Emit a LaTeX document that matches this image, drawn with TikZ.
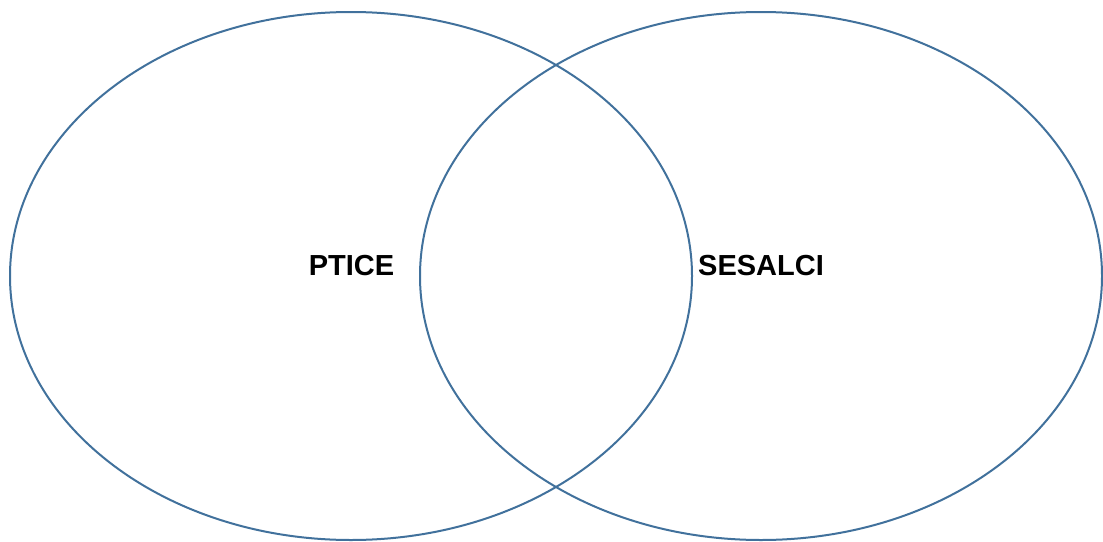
\documentclass[tikz,border=0pt]{standalone}
\usepackage{fontspec}
\setmainfont{Liberation Sans}
\definecolor{ring}{HTML}{41719C}
\begin{document}
\begin{tikzpicture}[x=1pt,y=-1pt,
  ringstyle/.style={draw=ring,line width=2pt},
  lbl/.style={font=\fontsize{29}{30}\selectfont\bfseries,inner sep=0pt}]
\useasboundingbox (0,0) rectangle (1103,541);
\draw[ringstyle] (351,276) ellipse [x radius=341, y radius=264];
\draw[ringstyle] (761,276) ellipse [x radius=341, y radius=264];
\node[lbl] (ptice) at (351.5,266) {PTICE};
\node[lbl] (sesalci) at (761,266) {SESALCI};
\end{tikzpicture}
\end{document}
